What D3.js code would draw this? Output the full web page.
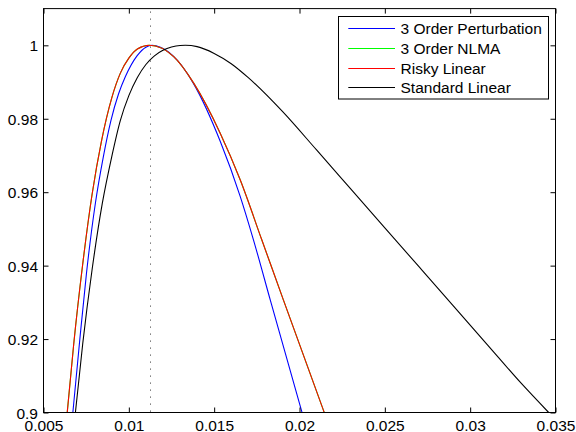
<!DOCTYPE html>
<html>
<head>
<meta charset="utf-8">
<script src="https://cdn.jsdelivr.net/npm/d3@7"></script>
<style>
  html, body { margin: 0; padding: 0; background: #fff; }
  svg { display: block; }
  text { font-family: "Liberation Sans", Arial, Helvetica, sans-serif; }
</style>
</head>
<body>
<script>
// ---- data ----
const seriesNames = ["3 Order Perturbation", "3 Order NLMA", "Risky Linear", "Standard Linear"];
const seriesColors = ["#0000ff", "#00ff00", "#ff0000", "#000000"];

const perturbX = [0.00672, 0.00713, 0.00752, 0.00804, 0.0085, 0.00895, 0.0094, 0.0098, 0.01049, 0.0110, 0.01136, 0.01185, 0.01283, 0.0138, 0.01536, 0.01653, 0.01731, 0.01829, 0.02015];
const perturbY = [0.900, 0.920, 0.938, 0.957, 0.9695, 0.9795, 0.9868, 0.9915, 0.9972, 0.9995, 1.000, 0.9995, 0.9960, 0.9895, 0.9738, 0.9588, 0.9469, 0.9306, 0.900];

const nlmaX = [0.00639, 0.00677, 0.0073, 0.00785, 0.0084, 0.0090, 0.00951, 0.0100, 0.0105, 0.0112, 0.01263, 0.0138, 0.01536, 0.01653, 0.0178, 0.01906, 0.02145];
const nlmaY = [0.900, 0.9186, 0.9405, 0.9595, 0.9740, 0.9857, 0.9925, 0.9965, 0.9990, 1.000, 0.9969, 0.9897, 0.9760, 0.9633, 0.9469, 0.9306, 0.900];

const riskyX = [0.00639, 0.00677, 0.0073, 0.00785, 0.0084, 0.0090, 0.00951, 0.0100, 0.0105, 0.0112, 0.01263, 0.0138, 0.01536, 0.01653, 0.0178, 0.01906, 0.02145];
const riskyY = [0.900, 0.9186, 0.9405, 0.9595, 0.9740, 0.9857, 0.9925, 0.9965, 0.9990, 1.000, 0.9969, 0.9897, 0.9760, 0.9633, 0.9469, 0.9306, 0.900];

const standardX = [0.00687, 0.0073, 0.00785, 0.00844, 0.0090, 0.0095, 0.0100, 0.0105, 0.0110, 0.0115, 0.0120, 0.0125, 0.0130, 0.01331, 0.0140, 0.0150, 0.0160, 0.0170, 0.0190, 0.0210, 0.0230, 0.0250, 0.0270, 0.0290, 0.0310, 0.0330, 0.0346];
const standardY = [0.900, 0.9188, 0.939, 0.9568, 0.9697, 0.9795, 0.9863, 0.99125, 0.99478, 0.99713, 0.99863, 0.99953, 0.99996, 1.000, 0.99964, 0.9978, 0.9950, 0.9912, 0.9820, 0.9715, 0.9609, 0.9503, 0.9397, 0.9291, 0.9185, 0.9079, 0.900];

const optimumX = 0.01126;

const xTicks = [0.005, 0.01, 0.015, 0.02, 0.025, 0.03, 0.035];
const xTickLabels = ["0.005", "0.01", "0.015", "0.02", "0.025", "0.03", "0.035"];
const yTicks = [0.9, 0.92, 0.94, 0.96, 0.98, 1.0];
const yTickLabels = ["0.9", "0.92", "0.94", "0.96", "0.98", "1"];
const xDomain = [0.005, 0.035];
const yDomain = [0.9, 1.01];

// ---- drawing ----
const W = 576, H = 432;
const L = 43.5, R = 555.5, T = 8.6, B = 412.5;
const fontPx = "15.5px";

const svg = d3.select("body").append("svg").attr("width", W).attr("height", H);

const x = d3.scaleLinear().domain(xDomain).range([L, R]);
const y = d3.scaleLinear().domain(yDomain).range([B, T]);

svg.append("defs").append("clipPath").attr("id", "clip")
  .append("rect").attr("x", L).attr("y", T).attr("width", R - L).attr("height", B - T);

// dotted vertical line
svg.append("line")
  .attr("x1", Math.round(x(optimumX)) + 0.5).attr("x2", Math.round(x(optimumX)) + 0.5)
  .attr("y1", T + 3).attr("y2", B)
  .attr("stroke", "#333").attr("stroke-width", 1)
  .attr("stroke-dasharray", "1,6");

const series = [
  { xs: perturbX, ys: perturbY },
  { xs: nlmaX, ys: nlmaY },
  { xs: riskyX, ys: riskyY },
  { xs: standardX, ys: standardY }
];

const line = d3.line().x(d => x(d[0])).y(d => y(d[1])).curve(d3.curveMonotoneX);

const g = svg.append("g").attr("clip-path", "url(#clip)");
series.forEach((s, i) => {
  const pts = s.xs.map((v, j) => [v, s.ys[j]]);
  g.append("path").datum(pts)
    .attr("d", line)
    .attr("fill", "none")
    .attr("stroke", seriesColors[i])
    .attr("stroke-width", 1.1);
});

// axes (box with inward ticks on all sides)
const tickLen = 5;
const axBottom = d3.axisBottom(x).tickValues(xTicks).tickSizeInner(-tickLen).tickSizeOuter(0)
  .tickFormat((d, i) => xTickLabels[i]);
const axTop = d3.axisTop(x).tickValues(xTicks).tickSizeInner(-tickLen).tickSizeOuter(0).tickFormat("");
const axLeft = d3.axisLeft(y).tickValues(yTicks).tickSizeInner(-tickLen).tickSizeOuter(0)
  .tickFormat((d, i) => yTickLabels[i]).tickPadding(5.5);
const axRight = d3.axisRight(y).tickValues(yTicks).tickSizeInner(-tickLen).tickSizeOuter(0).tickFormat("");

function style(sel) {
  sel.select(".domain").remove();
  sel.selectAll(".tick line").attr("stroke", "#000");
  sel.selectAll("text").attr("fill", "#000").style("font-size", fontPx)
    .style("font-family", "'Liberation Sans', Arial, sans-serif");
}

const gb = svg.append("g").attr("transform", `translate(0,${B})`).call(axBottom).call(style);
gb.selectAll("text").attr("dy", null).attr("y", 18.5);
svg.append("g").attr("transform", `translate(0,${T})`).call(axTop).call(style);
const gl = svg.append("g").attr("transform", `translate(${L},0)`).call(axLeft).call(style);
gl.selectAll("text").attr("dy", "0.36em");
svg.append("g").attr("transform", `translate(${R},0)`).call(axRight).call(style);

svg.append("rect")
  .attr("x", L).attr("y", T).attr("width", R - L).attr("height", B - T)
  .attr("fill", "none").attr("stroke", "#000").attr("stroke-width", 1);

// legend
const lg = svg.append("g");
const lgX = 338.5, lgY = 16.5, lgW = 210, lgH = 82.5;
lg.append("rect").attr("x", lgX).attr("y", lgY).attr("width", lgW).attr("height", lgH)
  .attr("fill", "#fff").attr("stroke", "#000").attr("stroke-width", 1);
seriesNames.forEach((name, i) => {
  const yy = Math.round(28.3 + i * 19.6) + 0.5;
  lg.append("line").attr("x1", 348.3).attr("x2", 395).attr("y1", yy).attr("y2", yy)
    .attr("stroke", seriesColors[i]).attr("stroke-width", 1);
  lg.append("text").attr("x", 400.5).attr("y", yy).attr("dy", "0.36em")
    .style("font-size", fontPx).attr("fill", "#000").text(name);
});
</script>
</body>
</html>
